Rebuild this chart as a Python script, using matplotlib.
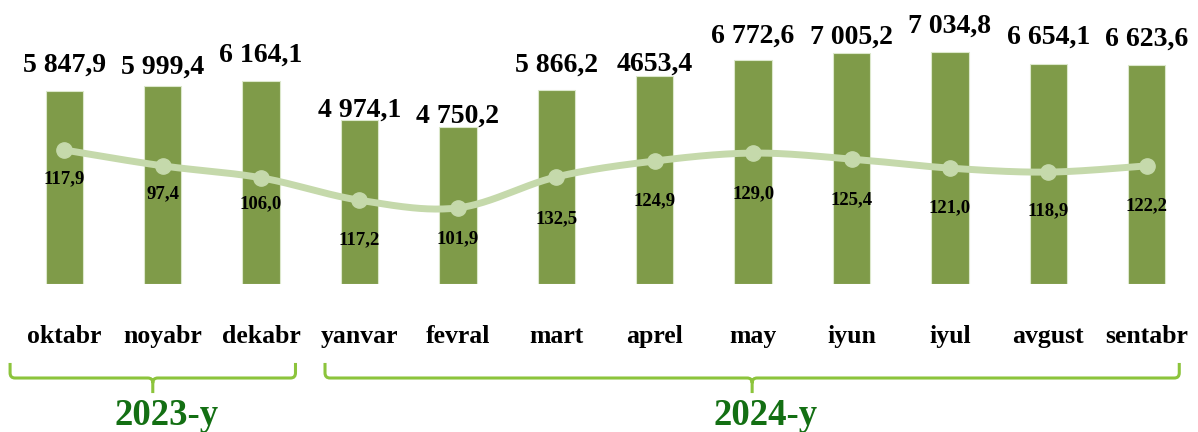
import numpy as np
import matplotlib
matplotlib.use("Agg")
import matplotlib.pyplot as plt
from matplotlib.path import Path
from matplotlib.patches import PathPatch

# data
months = ["oktabr", "noyabr", "dekabr", "yanvar", "fevral", "mart",
          "aprel", "may", "iyun", "iyul", "avgust", "sentabr"]
bar_values = [5847.9, 5999.4, 6164.1, 4974.1, 4750.2, 5866.2,
              6310.0, 6772.6, 7005.2, 7034.8, 6654.1, 6623.6]
bar_labels = ["5 847,9", "5 999,4", "6 164,1", "4 974,1", "4 750,2", "5 866,2",
              "4653,4", "6 772,6", "7 005,2", "7 034,8", "6 654,1", "6 623,6"]
growth_labels = ["117,9", "97,4", "106,0", "117,2", "101,9", "132,5",
                 "124,9", "129,0", "125,4", "121,0", "118,9", "122,2"]
# height of the line markers (share of plot height, %)
line_level = [47.2, 41.6, 37.4, 29.5, 26.8, 37.7, 43.3, 46.1, 44.0, 40.8, 39.4, 41.6]
years = ["2023-y", "2024-y"]
# brace extents in category units
year_spans = [(-0.55, 2.35), (2.65, 11.33)]

# label offsets in pixels (labels were placed by hand in the original)
bar_lab_dy = [19, 12, 19, 3, 5, 19, 5, 18, 9, 19, 21, 20]
line_lab_dy = [33, 32, 30, 44, 35, 46, 44, 45, 45, 44, 43, 44]

BAR = "#7f9b49"
LINE = "#c5d9ab"
BRACE = "#8cc43c"
YEAR = "#136f13"
FONT = "Liberation Serif"

def smooth(xs, ys, n=40):
    pts = np.column_stack([xs, ys]).astype(float)
    out = []
    for i in range(len(pts) - 1):
        p0 = pts[max(i - 1, 0)]
        p1 = pts[i]
        p2 = pts[i + 1]
        p3 = pts[min(i + 2, len(pts) - 1)]
        c1 = p1 + (p2 - p0) / 6
        c2 = p2 - (p3 - p1) / 6
        t = np.linspace(0, 1, n)[:, None]
        out.append((1 - t)**3 * p1 + 3 * (1 - t)**2 * t * c1
                   + 3 * (1 - t) * t**2 * c2 + t**3 * p2)
    return np.vstack(out)

fig = plt.figure(figsize=(11.98, 4.32), dpi=100)
ax = fig.add_axes([15 / 1198, 148 / 432, 1181 / 1198, 284 / 432])
x = np.arange(len(months))

ax.bar(x, bar_values, width=0.38, color=BAR, edgecolor="#dce8cc", linewidth=0.8, zorder=2)
ax.set_xlim(-0.5, len(months) - 0.5)
ax.set_ylim(0, 8605)
ax.set_xticks([])
ax.set_yticks([])
for s in ax.spines.values():
    s.set_visible(False)

for i, (v, lbl) in enumerate(zip(bar_values, bar_labels)):
    ax.annotate(lbl, (i, v), xytext=(0, bar_lab_dy[i]), textcoords="offset pixels",
                ha="center", va="baseline", fontsize=20, fontweight="bold",
                family=FONT, color="black")

# growth line on its own axis
ax2 = ax.twinx()
ax2.set_ylim(0, 100)
ax2.set_yticks([])
for s in ax2.spines.values():
    s.set_visible(False)
curve = smooth(x, line_level)
ax2.plot(curve[:, 0], curve[:, 1], color=LINE, lw=5, solid_capstyle="round", zorder=3)
ax2.plot(x, line_level, "o", color=LINE, ms=11, zorder=4)
for i, (v, lbl) in enumerate(zip(line_level, growth_labels)):
    ax2.annotate(lbl, (i, v), xytext=(0, -line_lab_dy[i]), textcoords="offset pixels",
                 ha="center", va="baseline", fontsize=13.5, fontweight="bold",
                 family=FONT, color="black", zorder=5)

# month names
tr = ax.get_xaxis_transform()
for i, m in enumerate(months):
    ax.text(i, -0.2077, m, transform=tr, ha="center", va="baseline",
            fontsize=18.5, fontweight="bold", family=FONT, clip_on=False)

# year braces
top, h, bot = -0.278, -0.331, -0.384
rx, ry = 0.05, 0.018
for (x0, x1), yr in zip(year_spans, years):
    xm = (x0 + x1) / 2
    verts = [(x0, top), (x0, h + ry), (x0, h), (x0 + rx, h),
             (xm - rx, h), (xm, h), (xm, h - ry), (xm, bot),
             (xm, h - ry), (xm, h), (xm + rx, h),
             (x1 - rx, h), (x1, h), (x1, h + ry), (x1, top)]
    codes = [Path.MOVETO, Path.LINETO, Path.CURVE3, Path.CURVE3,
             Path.LINETO, Path.CURVE3, Path.CURVE3, Path.LINETO,
             Path.MOVETO, Path.CURVE3, Path.CURVE3,
             Path.LINETO, Path.CURVE3, Path.CURVE3, Path.LINETO]
    ax.add_patch(PathPatch(Path(verts, codes), transform=tr, fill=False,
                           edgecolor=BRACE, lw=2.2, clip_on=False))
    ax.text(xm + 0.14, -0.4965, yr, transform=tr, ha="center", va="baseline",
            fontsize=26.5, fontweight="bold", family=FONT, color=YEAR, clip_on=False)

fig.savefig("out.png", dpi=100)
